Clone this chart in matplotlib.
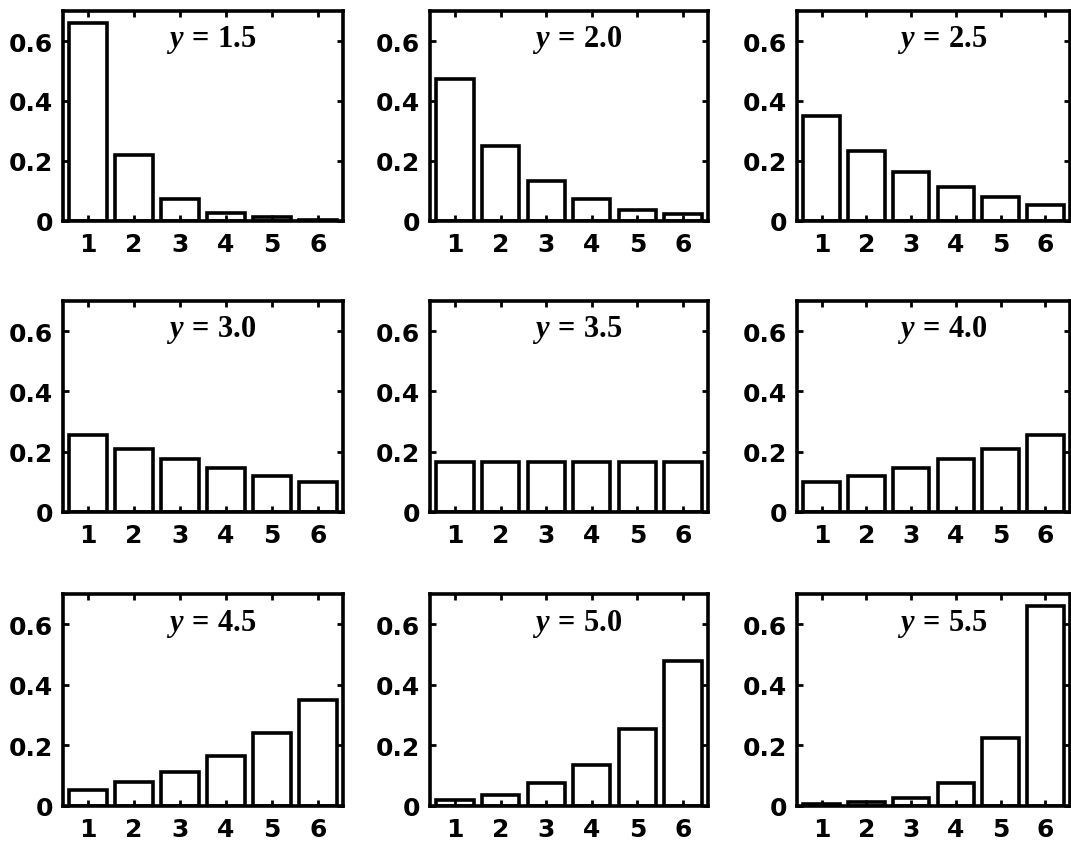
import matplotlib
matplotlib.use("Agg")
import matplotlib.pyplot as plt

plt.rcParams['mathtext.fontset'] = 'custom'
plt.rcParams['mathtext.it'] = 'Liberation Serif:bold:italic'
plt.rcParams['mathtext.rm'] = 'Liberation Serif:bold'
plt.rcParams['mathtext.bf'] = 'Liberation Serif:bold'

categories = [1, 2, 3, 4, 5, 6]
y_labels = ["1.5", "2.0", "2.5", "3.0", "3.5", "4.0", "4.5", "5.0", "5.5"]
p_15 = [0.66, 0.22, 0.075, 0.028, 0.012, 0.005]
p_20 = [0.475, 0.25, 0.135, 0.075, 0.037, 0.022]
p_25 = [0.35, 0.235, 0.165, 0.112, 0.08, 0.052]
p_30 = [0.255, 0.21, 0.175, 0.145, 0.12, 0.10]
p_35 = [0.167, 0.167, 0.167, 0.167, 0.167, 0.167]
p_40 = [0.10, 0.12, 0.145, 0.175, 0.21, 0.255]
p_45 = [0.052, 0.08, 0.112, 0.165, 0.24, 0.35]
p_50 = [0.02, 0.037, 0.075, 0.135, 0.255, 0.48]
p_55 = [0.005, 0.012, 0.028, 0.075, 0.225, 0.66]
series = [p_15, p_20, p_25, p_30, p_35, p_40, p_45, p_50, p_55]
y_ticks = [0, 0.2, 0.4, 0.6]
y_tick_labels = ["0", "0.2", "0.4", "0.6"]

W, H = 1071, 845
fig = plt.figure(figsize=(W / 100, H / 100), dpi=100)

cols = [(63, 343), (430, 708), (797, 1070)]
rows = [(12, 222), (302, 513), (595, 807)]

for i, vals in enumerate(series):
    r, c = divmod(i, 3)
    x0, x1 = cols[c]
    t, b = rows[r]
    ax = fig.add_axes([x0 / W, 1 - b / H, (x1 - x0) / W, (b - t) / H])
    ax.bar(categories, vals, width=0.82, color='white', edgecolor='black', linewidth=2.6)
    ax.set_xlim(0.45, 6.55)
    ax.set_ylim(0, 0.7)
    ax.set_xticks(categories)
    ax.set_yticks(y_ticks)
    ax.set_yticklabels(y_tick_labels)
    ax.tick_params(axis='both', direction='in', length=4, width=2, top=True, right=True,
                   labelsize=18)
    ax.tick_params(axis='x', pad=8)
    ax.tick_params(axis='y', pad=7)
    for lab in ax.get_xticklabels() + ax.get_yticklabels():
        lab.set_fontweight('bold')
    for s in ax.spines.values():
        s.set_linewidth(2.6)
    ax.text(0.53, 0.865, r"$y\,=\,%s$" % y_labels[i], transform=ax.transAxes,
            ha='center', va='center', fontsize=22)

fig.savefig("out.png", dpi=100)
